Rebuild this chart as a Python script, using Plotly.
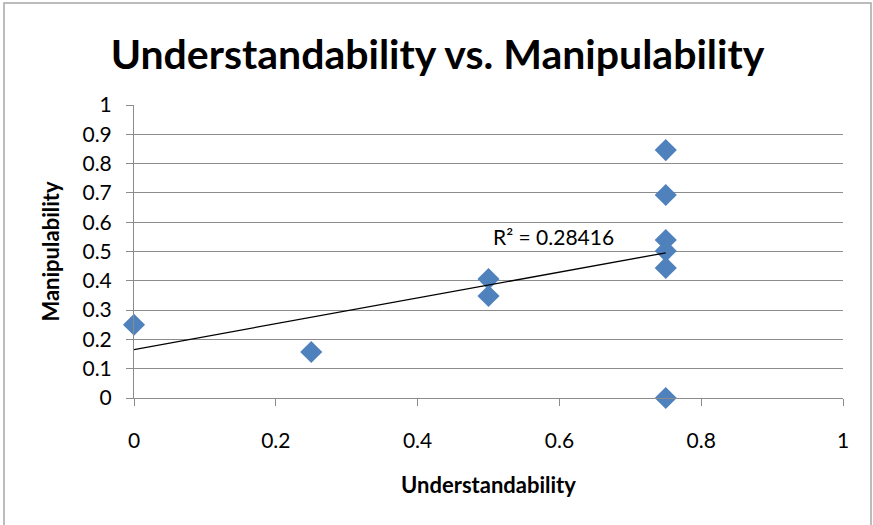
import numpy as np
import plotly.graph_objects as go

understandability = [0, 0.25, 0.5, 0.5, 0.75, 0.75, 0.75, 0.75, 0.75, 0.75]
manipulability = [0.25, 0.157, 0.406, 0.348, 0.846, 0.693, 0.539, 0.502, 0.444, 0.0]
r2_label = "R² = 0.28416"
x_ticks = [0, 0.2, 0.4, 0.6, 0.8, 1]
y_ticks = [0, 0.1, 0.2, 0.3, 0.4, 0.5, 0.6, 0.7, 0.8, 0.9, 1]

slope, intercept = np.polyfit(understandability, manipulability, 1)
trend_x = [min(understandability), max(understandability)]
trend_y = [intercept + slope * v for v in trend_x]

W, H = 873, 525
L, R, T, B = 134, 30, 105, 127
pw, ph = W - L - R, H - T - B

def px(xp):
    return (xp - L) / pw

def py(yp):
    return (H - B - yp) / ph

font = "Lato, 'Open Sans', sans-serif"
grid = "#8c8c8c"

fig = go.Figure()
fig.add_trace(go.Scatter(x=understandability, y=manipulability, mode="markers",
                         marker=dict(symbol="diamond", size=17, color="#4F81BD"),
                         showlegend=False, cliponaxis=False))
fig.add_trace(go.Scatter(x=trend_x, y=trend_y, mode="lines",
                         line=dict(color="black", width=1.3), showlegend=False))

fig.update_layout(
    width=W, height=H, margin=dict(l=L, r=R, t=T, b=B, autoexpand=False),
    paper_bgcolor="white", plot_bgcolor="white",
    font=dict(family=font, color="black", size=21),
    title=dict(text="<b>Understandability vs. Manipulability</b>", x=(110 + 765) / 2 / W,
               xanchor="center", y=1 - 55 / H, yanchor="middle",
               font=dict(size=41, family=font)),
    xaxis=dict(range=[0, 1], tickvals=x_ticks, ticktext=[f"{v:g}" for v in x_ticks],
               showgrid=False, zeroline=False, showline=True, linecolor=grid, linewidth=1,
               ticks="outside", ticklen=7, tickcolor=grid, ticklabelstandoff=17,
               tickfont=dict(size=21), automargin=False,
               title=dict(text="<b>Understandability</b>", font=dict(size=22), standoff=26)),
    yaxis=dict(range=[0, 1], tickvals=y_ticks, ticktext=[f"{v:g}" for v in y_ticks],
               showgrid=True, gridcolor=grid, gridwidth=1, zeroline=False,
               showline=True, linecolor=grid, linewidth=1,
               ticks="outside", ticklen=7, tickcolor=grid, ticklabelstandoff=10,
               tickfont=dict(size=21), automargin=False,
               title=dict(text="<b>Manipulability</b>", font=dict(size=22), standoff=16)),
    annotations=[dict(x=px(553), y=py(236), xref="paper", yref="paper", text=r2_label,
                      showarrow=False, font=dict(size=21), xanchor="center", yanchor="middle")],
    shapes=[dict(type="rect", xref="paper", yref="paper",
                 x0=px(4), x1=px(871), y0=py(535), y1=py(3),
                 line=dict(color="#a6a6a6", width=1.5), layer="below")],
)
fig.write_html("out.html", config={"displayModeBar": False},
               post_script="document.body.style.margin='0';")
